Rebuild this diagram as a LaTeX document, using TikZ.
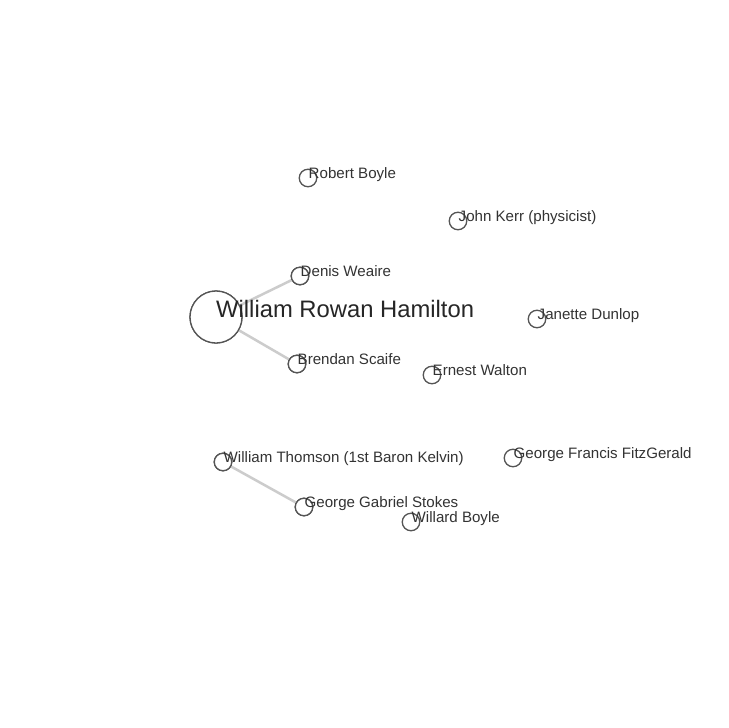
\documentclass[tikz,border=0pt]{standalone}
\usepackage{fontspec}
\setmainfont{Liberation Sans}
\definecolor{edgegray}{HTML}{CCCCCC}
\definecolor{ringgray}{HTML}{555555}
\definecolor{labelgray}{HTML}{333333}
\begin{document}
\begin{tikzpicture}[x=1pt,y=-1pt,
  smallnode/.style={circle,draw=ringgray,fill=white,line width=1.3pt,minimum size=17.5pt,inner sep=0pt},
  bignode/.style={circle,draw=ringgray,fill=white,line width=1.3pt,minimum size=52pt,inner sep=0pt},
  link/.style={draw=edgegray,line width=2.5pt},
  lbl/.style={anchor=base west,inner sep=0pt,text=labelgray,font=\fontsize{15.1}{17}\selectfont},
  biglbl/.style={anchor=base west,inner sep=0pt,text=black!85,font=\fontsize{23.8}{26}\selectfont}]
\useasboundingbox[fill=white] (0,0) rectangle (728,728);
% nodes
\node[bignode] (ham) at (216,317) {};
\node[smallnode] (rb) at (308,178) {};
\node[smallnode] (jk) at (458,221) {};
\node[smallnode] (dw) at (300,276) {};
\node[smallnode] (jd) at (537,319) {};
\node[smallnode] (bs) at (297,364) {};
\node[smallnode] (ew) at (432,375) {};
\node[smallnode] (wt) at (223,462) {};
\node[smallnode] (gf) at (513,458) {};
\node[smallnode] (gs) at (304,507) {};
\node[smallnode] (wb) at (411,522) {};
% edges
\path[link] (ham) -- (dw);
\path[link] (ham) -- (bs);
\path[link] (wt) -- (gs);
% redraw circles on top of edges
\node[bignode] at (ham) {};
\node[smallnode] at (dw) {};
\node[smallnode] at (bs) {};
\node[smallnode] at (wt) {};
\node[smallnode] at (gs) {};
% labels
\node[biglbl] (hamL) at ([yshift=-0.5pt]ham.center) {William Rowan Hamilton};
\node[lbl] (rbL) at ([xshift=0.5pt]rb.center) {Robert Boyle};
\node[lbl] (jkL) at ([xshift=0.5pt]jk.center) {John Kerr (physicist)};
\node[lbl] (dwL) at ([xshift=0.5pt]dw.center) {Denis Weaire};
\node[lbl] (jdL) at ([xshift=0.5pt]jd.center) {Janette Dunlop};
\node[lbl] (bsL) at ([xshift=0.5pt]bs.center) {Brendan Scaife};
\node[lbl] (ewL) at ([xshift=0.5pt]ew.center) {Ernest Walton};
\node[lbl] (wtL) at ([xshift=0.5pt]wt.center) {William Thomson (1st Baron Kelvin)};
\node[lbl] (gfL) at ([xshift=0.5pt]gf.center) {George Francis FitzGerald};
\node[lbl] (gsL) at ([xshift=0.5pt]gs.center) {George Gabriel Stokes};
\node[lbl] (wbL) at ([xshift=0.5pt]wb.center) {Willard Boyle};
\end{tikzpicture}
\end{document}
